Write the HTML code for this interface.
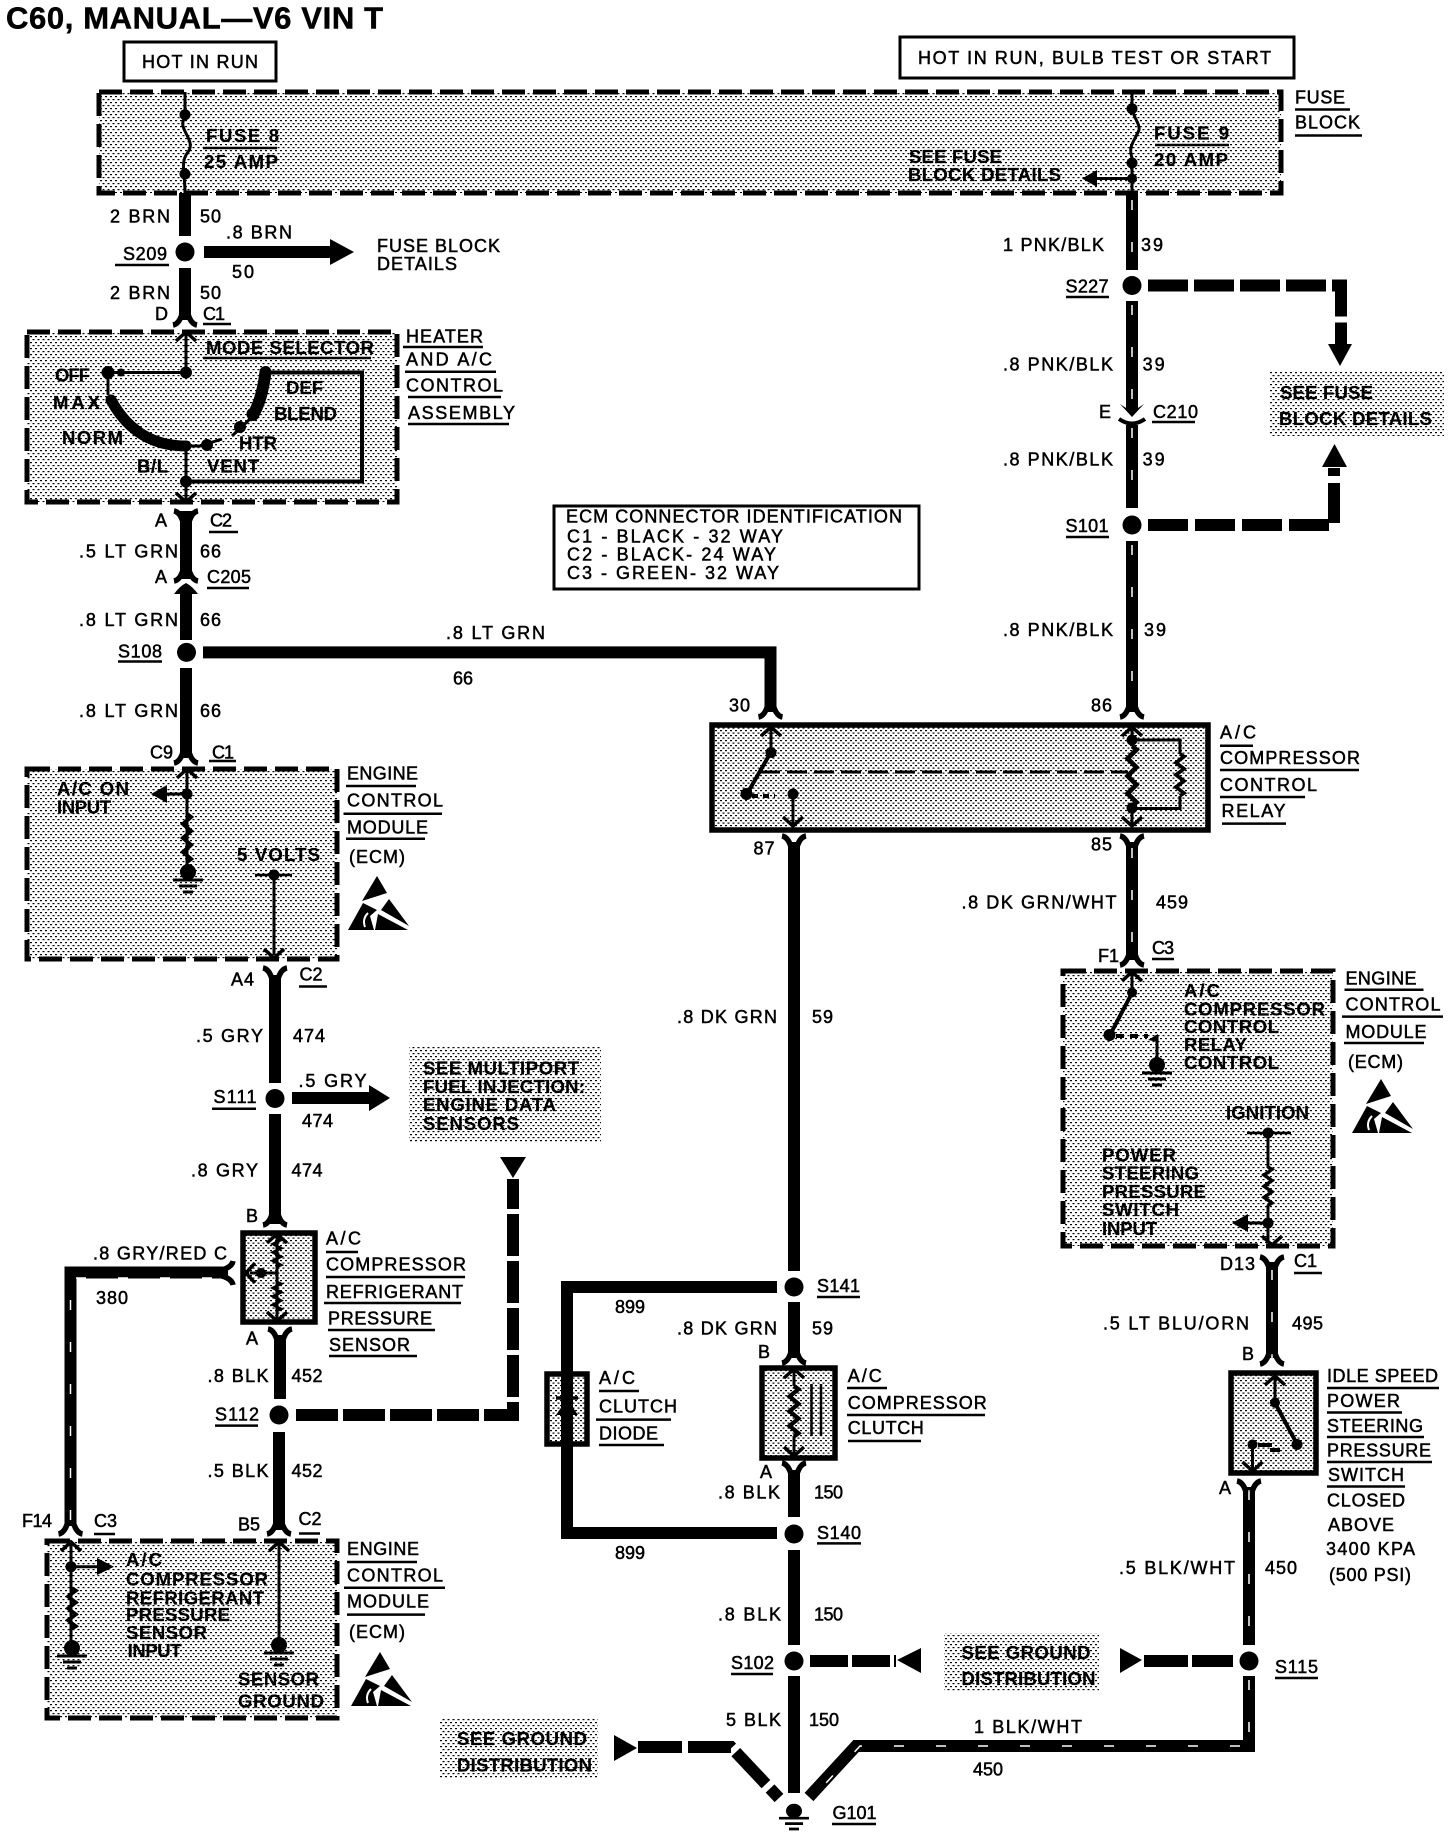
<!DOCTYPE html>
<html><head><meta charset="utf-8"><style>
html,body{margin:0;padding:0;background:#fff}
svg{display:block}
text{font-family:"Liberation Sans",sans-serif;font-size:18px;fill:#000;stroke:#000;stroke-width:.5px}
.s text{font-size:18.500px;font-weight:bold;stroke-width:.2px}
.t{font-size:31px;font-weight:bold}
.w{fill:none;stroke:#000;stroke-width:12}
.n{fill:none;stroke:#000;stroke-width:3}
.m{fill:none;stroke:#000;stroke-width:4}
.z{fill:none;stroke:#fff;stroke-width:1.5;stroke-dasharray:10 32}
.d{fill:url(#st);stroke:#000;stroke-width:5;stroke-dasharray:23 8}
.b{fill:url(#st2);stroke:#000;stroke-width:5.5}
</style></head><body>
<svg width="1456" height="1836" viewBox="0 0 1456 1836" xmlns="http://www.w3.org/2000/svg">
<defs>
<pattern id="st" width="5" height="6" patternUnits="userSpaceOnUse"><rect x="0" y="0" width="2" height="1.200" fill="#000"/><rect x="2.500" y="3" width="2" height="1.200" fill="#000"/></pattern>
<pattern id="st2" width="5" height="5" patternUnits="userSpaceOnUse"><rect x="0" y="0" width="2" height="1.200" fill="#000"/><rect x="2.500" y="2.500" width="2" height="1.200" fill="#000"/></pattern>
<g id="fd"><path d="M-12 0Q-6 -1 -3 -11M12 0Q6 -1 3 -11" fill="none" stroke="#000" stroke-width="5.500"/></g>
<g id="cu"><path d="M-10 9L0 0L10 9" fill="none" stroke="#000" stroke-width="3.500"/></g>
<g id="res"><path d="M0 0l4 3-8 7 8 7-8 7 8 7-8 7 8 7-4 3" fill="none" stroke="#000" stroke-width="4"/></g>
<g id="gnd"><circle r="8" fill="#000"/><path d="M0 0V6" stroke="#000" stroke-width="8"/><path d="M-15 8H15M-9 14H9M-5 20H5" stroke="#000" stroke-width="3"/></g>
<g id="esd"><path d="M29 0L39 17L14 25ZM0 54L15 27L29 34L22 40L26 54ZM41 23L61 50L33 34ZM30 38L60 54L27 54Z" fill="#000"/><path d="M20 37Q14 43 17 51" fill="none" stroke="#fff" stroke-width="2"/></g>
</defs>

<text class="t" x="6" y="28.500" textLength="377">C60, MANUAL—V6 VIN T</text>
<rect x="124" y="42" width="152" height="39" fill="#fff" stroke="#000" stroke-width="3"/>
<text x="142" y="68" textLength="116">HOT IN RUN</text>
<rect x="900" y="37" width="394" height="41" fill="#fff" stroke="#000" stroke-width="3"/>
<text x="918" y="64" textLength="353">HOT IN RUN, BULB TEST OR START</text>

<!-- shaded boxes -->
<rect class="d" x="99" y="92" width="1182" height="101"/>
<rect class="d" x="27" y="332" width="370" height="170"/>
<rect class="d" x="27" y="769" width="310" height="190"/>
<rect class="d" x="47" y="1541" width="290" height="177"/>
<rect class="d" x="1063" y="971" width="270" height="275"/>
<rect x="1270" y="372" width="174" height="64" fill="url(#st)"/>
<rect x="409" y="1047" width="192" height="96" fill="url(#st)"/>
<rect x="440" y="1719" width="158" height="60" fill="url(#st)"/>
<rect x="944" y="1633" width="155" height="59" fill="url(#st)"/>
<rect class="b" x="712" y="725" width="496" height="105"/>
<rect class="b" x="243" y="1233" width="72" height="89"/>
<rect class="b" x="547" y="1374" width="40" height="70"/>
<rect class="b" x="762" y="1368" width="73" height="90"/>
<rect class="b" x="1231" y="1373" width="85" height="100"/>

<!-- main wires -->
<path class="w" d="M185 193V236M185 268V320M186 511V579M186 590V640M186 668V758"/>
<path class="w" d="M204 252H332M292 1098H370M275 975V1083M275 1114V1224M280 1335V1399M279 1432V1530"/>
<path class="w" d="M203 652.400H770.500V712"/>
<path class="w" d="M777 1287H567V1533H777"/>
<path class="w" d="M794 842V1271M794 1302V1358M794 1470V1517M794 1550V1645M794 1676V1793"/>
<path class="w" d="M1132 193V270M1132 301V410M1132 425V508M1132 541V712M1132 842V960"/>
<path class="w" d="M1272 1262V1358M1249 1487V1645"/>
<path class="w" d="M1249 1676V1746H856L809 1797"/>
<path class="w" d="M70.500 1526V1272.500H228"/>
<path class="z" d="M1132 200V270M1132 305V411M1132 428V508M1132 545V712M1132 848V960M1272 1270V1358M1249 1490V1645M1249 1680V1740M1240 1746H860L815 1795M70.500 1520V1278M76 1278H228"/>

<!-- dashed heavy wires -->
<path class="w" d="M1148 285.500H1341V344" stroke-dasharray="40 6"/>
<path d="M1328 344H1352L1340 366Z"/>
<path class="w" d="M1148 525H1334V468" stroke-dasharray="40 7"/>
<path d="M1322 467H1347L1334.500 444Z"/>
<path class="w" d="M296 1415H513V1179" stroke-dasharray="42 5"/>
<path d="M500 1157H526L513 1178Z"/>
<path class="w" d="M810 1661H896" stroke-dasharray="38 4"/>
<path d="M921 1648V1673L897 1660Z"/>
<path class="w" d="M1144 1661H1233" stroke-dasharray="44 4"/>
<path d="M1120 1648V1673L1142 1660Z"/>
<path class="w" d="M638 1747H731L779 1798" stroke-dasharray="44 6"/>
<path d="M614 1735V1761L637 1748Z"/>

<!-- arrows -->
<path d="M330 239L354 252L330 265ZM369 1085L390 1098L369 1111Z"/>

<!-- splice dots -->
<g fill="#000"><circle cx="185" cy="252" r="9.500"/><circle cx="186.500" cy="652.400" r="9.500"/><circle cx="275" cy="1098.500" r="9.500"/><circle cx="279" cy="1415" r="9.500"/><circle cx="1132" cy="285.500" r="9.500"/><circle cx="1132" cy="525" r="9.500"/><circle cx="794" cy="1287" r="9.500"/><circle cx="794" cy="1534" r="9.500"/><circle cx="794" cy="1661" r="9.500"/><circle cx="1249" cy="1661" r="9.500"/></g>

<!-- connector forks -->
<use href="#fd" transform="translate(185 325)"/>
<use href="#cu" transform="translate(186 332)"/>
<use href="#cu" transform="translate(186 502) rotate(180)"/>
<use href="#fd" transform="translate(186 511) scale(1 -1)"/>
<use href="#fd" transform="translate(186 581)"/>
<path d="M174 594Q180 586 186 583Q192 586 198 594L192 594H180Z" fill="#000"/>
<use href="#fd" transform="translate(186 763)"/>
<use href="#cu" transform="translate(187 769)"/>
<use href="#cu" transform="translate(274 958) rotate(180)"/>
<use href="#fd" transform="translate(275 968) scale(1 -1)"/>
<use href="#fd" transform="translate(275 1225)"/>
<use href="#cu" transform="translate(277 1234)"/>
<use href="#cu" transform="translate(277 1321) rotate(180)"/>
<use href="#fd" transform="translate(280 1329) scale(1 -1)"/>
<use href="#fd" transform="translate(279 1534)"/>
<use href="#cu" transform="translate(279 1542)"/>
<use href="#fd" transform="translate(70.500 1534)"/>
<use href="#cu" transform="translate(71 1542)"/>
<use href="#fd" transform="translate(233 1273) rotate(-90)"/>
<use href="#cu" transform="translate(246 1273) rotate(-90)"/>
<use href="#fd" transform="translate(770.500 717)"/>
<use href="#cu" transform="translate(771 727)"/>
<use href="#fd" transform="translate(1132 717)"/>
<use href="#cu" transform="translate(1132 727)"/>
<use href="#cu" transform="translate(793 826) rotate(180)"/>
<use href="#fd" transform="translate(794 836) scale(1 -1)"/>
<use href="#cu" transform="translate(1132 826) rotate(180)"/>
<use href="#fd" transform="translate(1132 836) scale(1 -1)"/>
<use href="#fd" transform="translate(1132 965)"/>
<use href="#cu" transform="translate(1132 972)"/>
<use href="#cu" transform="translate(1272 1245) rotate(180)"/>
<use href="#fd" transform="translate(1272 1257) scale(1 -1)"/>
<use href="#fd" transform="translate(1272 1364)"/>
<use href="#cu" transform="translate(1275 1376)"/>
<use href="#cu" transform="translate(1252.500 1471) rotate(180)"/>
<use href="#fd" transform="translate(1249 1481) scale(1 -1)"/>
<use href="#fd" transform="translate(794 1363)"/>
<use href="#cu" transform="translate(794 1369)"/>
<use href="#cu" transform="translate(794 1456) rotate(180)"/>
<use href="#fd" transform="translate(794 1463) scale(1 -1)"/>
<!-- C210 -->
<path d="M1120 404L1126 408H1138L1144 404L1132 417Z" fill="#000"/>
<path d="M1119 419Q1132 428 1145 419" fill="none" stroke="#000" stroke-width="4"/>

<!-- fuses -->
<path class="n" d="M185 92V104Q185 112 185 118C176 128 197 140 188 152C180 162 185 172 185 193"/>
<circle cx="185" cy="114.700" r="5.500"/><circle cx="185" cy="174" r="5.500"/>
<path class="n" d="M1132 92V104C1132 118 1140 122 1139 130C1134 142 1128 146 1132 158V193"/>
<circle cx="1132" cy="108.700" r="5.500"/><circle cx="1132" cy="163" r="5.500"/><circle cx="1132" cy="178.500" r="5"/>
<path class="n" d="M1132 178.500H1095"/><path d="M1082 178.500L1097 170V187Z"/>

<!-- heater internals -->
<path class="n" d="M186 334V372.500H108V395"/>
<circle cx="186" cy="372.500" r="6"/><circle cx="108" cy="372.500" r="6.500"/><circle cx="121" cy="372.500" r="4"/>
<path d="M111 400Q136 446 186 446" fill="none" stroke="#000" stroke-width="11" stroke-linecap="round"/>
<path d="M265.500 372Q262 400 253 415" fill="none" stroke="#000" stroke-width="12" stroke-linecap="round"/>
<circle cx="253" cy="414" r="6.500"/><path class="n" d="M250 419L232 436"/><circle cx="240" cy="427" r="6"/>
<path class="n" d="M186 446H200L222 439"/><circle cx="207" cy="445" r="6"/>
<path class="m" d="M265 372.500H362V481.500H186"/>
<path class="n" d="M186 446V500"/><circle cx="186" cy="481.500" r="6"/>

<!-- ecm 1 internals -->
<path class="n" d="M187 770V873M187 794H165M274 875V955"/>
<circle cx="187" cy="794" r="5.500"/><path d="M151 794L167 785V803Z"/>
<use href="#res" transform="translate(187 814)"/>
<use href="#gnd" transform="translate(188 872)"/>
<path d="M255 875H292" stroke="#000" stroke-width="2.500"/><circle cx="274" cy="875" r="5.500"/>
<use href="#esd" transform="translate(348 876)"/>

<!-- sensor internals -->
<path class="n" d="M277 1234V1321M277 1273H250"/>
<circle cx="261" cy="1273" r="5"/>
<use href="#res" transform="translate(277 1238) scale(1 .6)"/>
<use href="#res" transform="translate(277 1282) scale(1 .6)"/>

<!-- ecm 3 internals -->
<path class="n" d="M71 1543V1645M71 1566.700H98M279 1543V1645"/>
<circle cx="71" cy="1566.700" r="5.500"/><path d="M114 1566.700L97 1558V1575Z"/>
<use href="#res" transform="translate(72 1588) scale(1 .85)"/>
<use href="#gnd" transform="translate(72 1648)"/>
<use href="#gnd" transform="translate(279 1645)"/>
<use href="#esd" transform="translate(351 1652)"/>

<!-- relay internals -->
<path class="n" d="M771 728V752"/>
<circle cx="771" cy="752.500" r="5.500"/>
<path class="m" d="M771 752L747 794"/><circle cx="746.500" cy="794" r="6"/>
<path class="m" d="M752 796H775" stroke-dasharray="6 5"/>
<path class="n" d="M760 772H1128" stroke-dasharray="20 7"/>
<path class="n" d="M793 794V824"/><circle cx="793" cy="794" r="5.500"/>
<path class="n" d="M1132 728V746M1132 806V824M1132 740H1180V754M1180 796V808.500H1132"/>
<circle cx="1132" cy="740" r="5.500"/><circle cx="1132" cy="808" r="5.500"/>
<use href="#res" transform="translate(1132 746) scale(1.100 1.250)"/>
<use href="#res" transform="translate(1180 754) scale(1 .87)"/>

<!-- ecm 2 internals -->
<path class="n" d="M1132 972V992"/><circle cx="1132" cy="992.500" r="5"/>
<path class="m" d="M1132 993L1110 1035"/><circle cx="1109.500" cy="1035" r="6"/>
<path class="m" d="M1116 1036H1148" stroke-dasharray="8 6"/>
<path class="n" d="M1157 1035V1060"/><path d="M1148 1040L1158 1034V1042Z"/>
<use href="#gnd" transform="translate(1157 1065)"/>
<path d="M1247 1133H1291" stroke="#000" stroke-width="2.500"/><circle cx="1268" cy="1133" r="5.500"/>
<path class="n" d="M1268 1133V1168M1268 1205V1243M1268 1223H1245"/>
<use href="#res" transform="translate(1268 1167) scale(1 .8)"/>
<circle cx="1268" cy="1223" r="5.500"/><path d="M1232 1223L1248 1214V1232Z"/>
<use href="#esd" transform="translate(1352 1079)"/>

<!-- diode -->
<path class="n" d="M567 1372V1445"/><path d="M556 1415H578L567 1399Z"/><path d="M556 1398H578" stroke="#000" stroke-width="3.500"/>

<!-- clutch -->
<path class="n" d="M794 1369V1386M794 1436V1456"/>
<use href="#res" transform="translate(794 1386) scale(1.100 1.050)"/>
<path d="M811.500 1384V1436M821 1384V1436" stroke="#000" stroke-width="2.500"/>

<!-- idle switch -->
<path class="n" d="M1275 1376V1402M1252.500 1444.500V1470"/>
<circle cx="1275" cy="1402.600" r="5"/><path class="m" d="M1275 1403L1297 1444"/><circle cx="1297" cy="1444.500" r="5.500"/>
<circle cx="1252.500" cy="1444.500" r="5"/><path class="m" d="M1258 1445H1272M1270 1450H1280"/>

<!-- ground G101 -->
<use href="#gnd" transform="translate(794 1811) scale(1 .9)"/>

<!-- underlines -->
<path stroke="#000" stroke-width="2.500" fill="none" d="M203 148H277M1155 145H1229M1295 109.500H1350M1295 135.500H1362M115 265H169M203 324H231M203 358H371M403 347H483M405 371.700H496M408 397H501M408 424H509M209 532H238M207 588H249M118 661.500H162M209 761H236M346 786H416M343.500 813.700H442M346 838.700H425M299 986.500H327M212 1108.700H256M326 1252H358M326 1277H465M324 1303H461M328 1330H435M329 1356H417M215 1425.600H258M94 1534H115M299 1533.500H320M347 1562H417M344 1587.700H445M347 1614.600H425M599 1391H639M596 1419.600H671M599 1445H664M566 526H904M1066 297H1109M1152 422H1195M1066 537H1109M1220 745.700H1253M1220 770H1359M1220 797H1305M1222 823.600H1286M1152 959H1174M1344.500 989.700H1423.500M1342 1016.600H1443M1344 1043H1424M847 1388H887M847 1415H985M848 1441H921M817 1297H860M817 1543.400H861M731 1674H773M1275 1678H1318M832 1824H876M1294 1273H1322M1327 1388H1439M1327 1412.500H1402M1327 1437H1424M1327 1462H1432M1327 1486.500H1405"/>

<!-- ECM id box -->
<rect x="554" y="506" width="365" height="83" fill="#fff" stroke="#000" stroke-width="3"/>
<text x="566" y="522.700" textLength="336">ECM CONNECTOR IDENTIFICATION</text>
<text x="567" y="542.500" textLength="216">C1 - BLACK - 32 WAY</text>
<text x="567" y="560.700" textLength="209">C2 - BLACK- 24 WAY</text>
<text x="567" y="579" textLength="212">C3 - GREEN- 32 WAY</text>

<!-- wire labels -->
<text x="110" y="222.600" textLength="60">2 BRN</text><text x="200" y="222.600" textLength="21">50</text>
<text x="123" y="260" textLength="44">S209</text>
<text x="226" y="238.400" textLength="66">.8 BRN</text><text x="232" y="278" textLength="22">50</text>
<text x="377" y="252" textLength="123">FUSE BLOCK</text><text x="377" y="270" textLength="80">DETAILS</text>
<text x="110" y="299" textLength="60">2 BRN</text><text x="200" y="299" textLength="21">50</text>
<text x="155" y="320" textLength="12">D</text><text x="203" y="320" textLength="22">C1</text>
<text x="155" y="526.700" textLength="12">A</text><text x="210" y="526.700" textLength="22">C2</text>
<text x="79" y="557.500" textLength="99">.5 LT GRN</text><text x="200" y="557.500" textLength="21">66</text>
<text x="155" y="583" textLength="12">A</text><text x="207" y="583" textLength="44">C205</text>
<text x="79" y="626" textLength="99">.8 LT GRN</text><text x="200" y="626" textLength="21">66</text>
<text x="118" y="657.600" textLength="44">S108</text>
<text x="446" y="639" textLength="99">.8 LT GRN</text><text x="453" y="684.500" textLength="20">66</text>
<text x="79" y="717" textLength="99">.8 LT GRN</text><text x="200" y="717" textLength="21">66</text>
<text x="150" y="758.400" textLength="23">C9</text><text x="212" y="758.400" textLength="22">C1</text>
<text x="347" y="779.700" textLength="71">ENGINE</text><text x="347" y="806.600" textLength="96">CONTROL</text><text x="347" y="833.500" textLength="81">MODULE</text><text x="349" y="863" textLength="56">(ECM)</text>
<text x="231" y="985.700" textLength="23">A4</text><text x="299.500" y="980.600" textLength="23">C2</text>
<text x="196" y="1042" textLength="67">.5 GRY</text><text x="293" y="1042" textLength="32">474</text>
<text x="213.500" y="1103" textLength="43">S111</text>
<text x="298.500" y="1087" textLength="68">.5 GRY</text><text x="302" y="1127" textLength="31">474</text>
<text x="191" y="1176.700" textLength="67">.8 GRY</text><text x="291.500" y="1176.700" textLength="31">474</text>
<text x="246" y="1221.800" textLength="11">B</text>
<text x="93" y="1259.500" textLength="134">.8 GRY/RED C</text><text x="96" y="1304" textLength="32">380</text>
<text x="326" y="1244.500" textLength="35">A/C</text><text x="326" y="1270.600" textLength="140">COMPRESSOR</text><text x="326" y="1298" textLength="137">REFRIGERANT</text><text x="328" y="1324.700" textLength="104">PRESSURE</text><text x="329" y="1351" textLength="81">SENSOR</text>
<text x="246" y="1344.500" textLength="13">A</text>
<text x="207.500" y="1382" textLength="61">.8 BLK</text><text x="291.500" y="1382" textLength="31">452</text>
<text x="215" y="1420.400" textLength="44">S112</text>
<text x="207.500" y="1477" textLength="61">.5 BLK</text><text x="291.500" y="1477" textLength="31">452</text>
<text x="22" y="1527" textLength="30">F14</text><text x="94" y="1527" textLength="23">C3</text>
<text x="238" y="1530.300" textLength="22">B5</text><text x="298.500" y="1525" textLength="23">C2</text>
<text x="347" y="1555" textLength="72">ENGINE</text><text x="347" y="1581.700" textLength="96">CONTROL</text><text x="347" y="1607.500" textLength="82">MODULE</text><text x="349" y="1638" textLength="56">(ECM)</text>
<text x="406" y="342.400" textLength="77">HEATER</text><text x="406" y="365.700" textLength="86">AND A/C</text><text x="406" y="391.400" textLength="97">CONTROL</text><text x="408" y="419" textLength="107">ASSEMBLY</text>
<text x="615" y="1313" textLength="30">899</text><text x="615" y="1559" textLength="30">899</text>
<text x="599" y="1384" textLength="36">A/C</text><text x="599" y="1412.500" textLength="78">CLUTCH</text><text x="599" y="1439.400" textLength="59">DIODE</text>
<text x="677" y="1023" textLength="100">.8 DK GRN</text><text x="812" y="1023" textLength="21">59</text>
<text x="677" y="1334.600" textLength="100">.8 DK GRN</text><text x="812" y="1334.600" textLength="21">59</text>
<text x="729" y="711.700" textLength="21">30</text><text x="1091" y="711.700" textLength="21">86</text>
<text x="753.500" y="854.500" textLength="21">87</text><text x="1091" y="850.500" textLength="21">85</text>
<text x="758" y="1358" textLength="11">B</text><text x="760" y="1478" textLength="12">A</text>
<text x="718" y="1498.700" textLength="62">.8 BLK</text><text x="814" y="1498.700" textLength="29">150</text>
<text x="817" y="1292" textLength="43">S141</text><text x="817" y="1539" textLength="44">S140</text>
<text x="718" y="1620.500" textLength="63">.8 BLK</text><text x="814" y="1620.500" textLength="29">150</text>
<text x="731" y="1669" textLength="43">S102</text>
<text x="726" y="1726" textLength="55">5 BLK</text><text x="809" y="1726" textLength="30">150</text>
<text x="832.500" y="1819" textLength="44">G101</text>
<text x="847.800" y="1382" textLength="34">A/C</text><text x="847.800" y="1409" textLength="139">COMPRESSOR</text><text x="847.800" y="1434" textLength="76">CLUTCH</text>
<text x="974" y="1733" textLength="108">1 BLK/WHT</text><text x="973" y="1775.500" textLength="30">450</text>
<text x="1119" y="1574" textLength="116">.5 BLK/WHT</text><text x="1265" y="1574" textLength="32">450</text>
<text x="1275" y="1673" textLength="43">S115</text>
<text x="1220" y="1270" textLength="35">D13</text><text x="1294" y="1267" textLength="23">C1</text>
<text x="1103" y="1329.500" textLength="146">.5 LT BLU/ORN</text><text x="1292" y="1329.500" textLength="31">495</text>
<text x="1242" y="1360" textLength="11">B</text><text x="1219" y="1494" textLength="12">A</text>
<text x="1327" y="1382" textLength="111">IDLE SPEED</text><text x="1327" y="1407" textLength="73">POWER</text><text x="1327" y="1432" textLength="96">STEERING</text><text x="1327" y="1456.400" textLength="104">PRESSURE</text><text x="1328" y="1481" textLength="76">SWITCH</text><text x="1327" y="1506.600" textLength="78">CLOSED</text><text x="1328" y="1531" textLength="66">ABOVE</text><text x="1326" y="1555" textLength="89">3400 KPA</text><text x="1329" y="1581" textLength="82">(500 PSI)</text>
<text x="1295" y="103.600" textLength="50">FUSE</text><text x="1295" y="128.500" textLength="65">BLOCK</text>
<text x="1003" y="251" textLength="101">1 PNK/BLK</text><text x="1141" y="251" textLength="22">39</text>
<text x="1065.500" y="292.600" textLength="43">S227</text>
<text x="1003" y="370.500" textLength="110">.8 PNK/BLK</text><text x="1142.600" y="370.500" textLength="22">39</text>
<text x="1099" y="418" textLength="11">E</text><text x="1153" y="418" textLength="45">C210</text>
<text x="1003" y="465.400" textLength="110">.8 PNK/BLK</text><text x="1142.600" y="465.400" textLength="22">39</text>
<text x="1065.500" y="532" textLength="43">S101</text>
<text x="1003" y="636" textLength="110">.8 PNK/BLK</text><text x="1144" y="636" textLength="22">39</text>
<text x="1220" y="738.600" textLength="36">A/C</text><text x="1220" y="764" textLength="140">COMPRESSOR</text><text x="1220" y="791" textLength="97">CONTROL</text><text x="1221.500" y="817" textLength="64">RELAY</text>
<text x="961.500" y="908.600" textLength="155">.8 DK GRN/WHT</text><text x="1156" y="908.600" textLength="32">459</text>
<text x="1098" y="962" textLength="21">F1</text><text x="1152" y="954" textLength="22">C3</text>
<text x="1345.500" y="984.500" textLength="71">ENGINE</text><text x="1345.500" y="1010.700" textLength="95">CONTROL</text><text x="1345.500" y="1038" textLength="81">MODULE</text><text x="1348" y="1068" textLength="55">(ECM)</text>

<!-- labels inside shaded regions -->
<g class="s">
<text x="206" y="142" textLength="73">FUSE 8</text><text x="204" y="168" textLength="74">25 AMP</text>
<text x="1154" y="139.600" textLength="75">FUSE 9</text><text x="1154" y="166" textLength="74">20 AMP</text>
<text x="909" y="163" textLength="93">SEE FUSE</text><text x="908" y="181" textLength="153">BLOCK DETAILS</text>
<text x="206" y="354" textLength="168">MODE SELECTOR</text>
<text x="55" y="381.600" textLength="35">OFF</text><text x="53" y="409" textLength="47">MAX</text><text x="62" y="444" textLength="61">NORM</text><text x="137" y="472.500" textLength="31">B/L</text><text x="207" y="472.500" textLength="52">VENT</text><text x="239" y="449.600" textLength="38">HTR</text><text x="274" y="420" textLength="63">BLEND</text><text x="286" y="394" textLength="37">DEF</text>
<text x="57" y="795" textLength="72">A/C ON</text><text x="57" y="813.700" textLength="54">INPUT</text><text x="237" y="861" textLength="83">5 VOLTS</text>
<text x="1280" y="399" textLength="93">SEE FUSE</text><text x="1279" y="425" textLength="153">BLOCK DETAILS</text>
<text x="423" y="1074.700" textLength="156">SEE MULTIPORT</text><text x="423" y="1093" textLength="162">FUEL INJECTION:</text><text x="423" y="1111" textLength="133">ENGINE DATA</text><text x="423" y="1130" textLength="96">SENSORS</text>
<text x="126" y="1566" textLength="36">A/C</text><text x="126" y="1585.700" textLength="142">COMPRESSOR</text><text x="126" y="1604.300" textLength="138">REFRIGERANT</text><text x="126" y="1621" textLength="104">PRESSURE</text><text x="126" y="1639" textLength="81">SENSOR</text><text x="127.600" y="1657" textLength="54">INPUT</text>
<text x="238" y="1685.700" textLength="81">SENSOR</text><text x="238" y="1707.500" textLength="86">GROUND</text>
<text x="457" y="1745" textLength="130">SEE GROUND</text><text x="457" y="1771.500" textLength="135">DISTRIBUTION</text>
<text x="961.500" y="1659" textLength="129">SEE GROUND</text><text x="961.500" y="1685" textLength="134">DISTRIBUTION</text>
<text x="1184" y="997" textLength="36">A/C</text><text x="1184" y="1015.400" textLength="141">COMPRESSOR</text><text x="1184" y="1033" textLength="95">CONTROL</text><text x="1184" y="1051" textLength="63">RELAY</text><text x="1184" y="1069" textLength="95">CONTROL</text>
<text x="1226" y="1119" textLength="83">IGNITION</text>
<text x="1102" y="1161.700" textLength="74">POWER</text><text x="1102" y="1179.500" textLength="97">STEERING</text><text x="1102" y="1198" textLength="104">PRESSURE</text><text x="1102" y="1216" textLength="77">SWITCH</text><text x="1102" y="1235" textLength="55">INPUT</text>
</g>
</svg>
</body></html>
